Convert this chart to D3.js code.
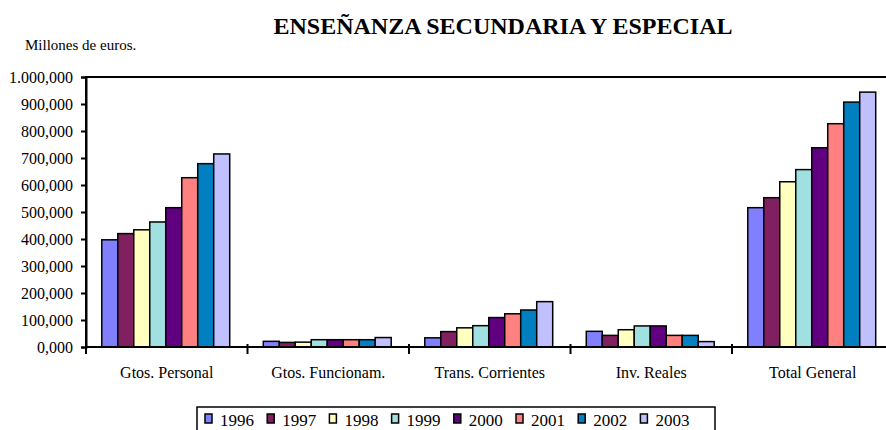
<!DOCTYPE html>
<html>
<head>
<meta charset="utf-8">
<script src="https://cdn.jsdelivr.net/npm/d3@7"></script>
<style>
  body { margin: 0; background: #fff; }
  svg { display: block; }
</style>
</head>
<body>
<div id="viz"></div>
<script>
'use strict';

const categories = ['Gtos. Personal', 'Gtos. Funcionam.', 'Trans. Corrientes', 'Inv. Reales', 'Total General'];
const years = ['1996', '1997', '1998', '1999', '2000', '2001', '2002', '2003'];
const colors = ['#8080ff', '#802060', '#ffffc0', '#a0e0e0', '#600080', '#ff8080', '#0080c0', '#c0c0ff'];

// one array per year, values in the order of categories
const v1996 = [397000, 21000, 34000, 58000, 516000];
const v1997 = [420000, 17000, 57000, 43000, 553000];
const v1998 = [434000, 18000, 71000, 64000, 612000];
const v1999 = [463000, 27000, 79000, 78000, 657000];
const v2000 = [516000, 27000, 109000, 78000, 738000];
const v2001 = [627000, 27000, 123000, 43000, 827000];
const v2002 = [679000, 27000, 137000, 43000, 907000];
const v2003 = [715000, 35000, 168000, 20000, 944000];
const series = [v1996, v1997, v1998, v1999, v2000, v2001, v2002, v2003];

const yTicks = [0, 100000, 200000, 300000, 400000, 500000, 600000, 700000, 800000, 900000, 1000000];
const yTickLabels = ['0,000', '100,000', '200,000', '300,000', '400,000', '500,000',
  '600,000', '700,000', '800,000', '900,000', '1.000,000'];

const FONT = '"Liberation Serif", "Times New Roman", serif';
const W = 886, H = 430;
const plotLeft = 86, plotTop = 77, plotBottom = 347;
const catWidth = 161.5;
const plotRight = plotLeft + catWidth * categories.length;

const svg = d3.select('#viz')
  .append('svg')
    .attr('width', W)
    .attr('height', H)
    .attr('font-family', FONT);

// title
svg.append('text')
  .attr('x', 503)
  .attr('y', 34)
  .attr('text-anchor', 'middle')
  .attr('font-size', 24)
  .attr('font-weight', 'bold')
  .text('ENSEÑANZA SECUNDARIA Y ESPECIAL');

svg.append('text')
  .attr('x', 25)
  .attr('y', 50)
  .attr('font-size', 15)
  .text('Millones de euros.');

const x = d3.scaleBand()
  .domain(categories)
  .range([plotLeft, plotRight])
  .padding(0);

const xi = d3.scaleBand()
  .domain(years)
  .range([0, catWidth])
  .paddingInner(0)
  .paddingOuter(1.05)
  .align(0.47);

const y = d3.scaleLinear()
  .domain([0, 1000000])
  .range([plotBottom, plotTop]);

// plot frame
svg.append('rect')
  .attr('x', plotLeft)
  .attr('y', plotTop)
  .attr('width', plotRight - plotLeft)
  .attr('height', plotBottom - plotTop)
  .attr('fill', 'none')
  .attr('stroke', '#000')
  .attr('stroke-width', 2);

// bars
const groups = svg.append('g')
  .selectAll('g')
  .data(years)
  .join('g')
    .attr('fill', (d, i) => colors[i]);

groups.selectAll('rect')
  .data((yr, i) => series[i].map((v, j) => ({yr, cat: categories[j], v})))
  .join('rect')
    .attr('x', d => x(d.cat) + xi(d.yr))
    .attr('y', d => y(d.v))
    .attr('width', xi.bandwidth())
    .attr('height', d => y(0) - y(d.v))
    .attr('stroke', '#000')
    .attr('stroke-width', 1.5);

// left axis
const yAxis = svg.append('g')
  .attr('transform', `translate(${plotLeft},0)`)
  .call(d3.axisLeft(y)
    .tickValues(yTicks)
    .tickFormat((d, i) => yTickLabels[i])
    .tickSize(5)
    .tickPadding(8));

yAxis.attr('font-family', FONT).attr('font-size', 16);
yAxis.select('.domain').attr('stroke-width', 2);
yAxis.selectAll('.tick line').attr('stroke-width', 2);
yAxis.selectAll('.tick text').attr('fill', '#000');

// bottom axis: category labels plus crossing ticks at boundaries
svg.append('line')
  .attr('x1', plotLeft)
  .attr('x2', plotRight)
  .attr('y1', plotBottom)
  .attr('y2', plotBottom)
  .attr('stroke', '#000')
  .attr('stroke-width', 2);

const bounds = categories.map(c => x(c)).concat([plotRight]);
svg.append('g')
  .selectAll('line')
  .data(bounds)
  .join('line')
    .attr('x1', d => d)
    .attr('x2', d => d)
    .attr('y1', plotBottom - 3)
    .attr('y2', plotBottom + 7)
    .attr('stroke', '#000')
    .attr('stroke-width', 2);

svg.append('g')
  .selectAll('text')
  .data(categories)
  .join('text')
    .attr('x', d => x(d) + x.bandwidth() / 2)
    .attr('y', 378)
    .attr('text-anchor', 'middle')
    .attr('font-size', 16)
    .text(d => d);

// legend (its lower part falls below the picture, as in the source)
const legend = svg.append('g');
legend.append('rect')
  .attr('x', 197)
  .attr('y', 407)
  .attr('width', 518)
  .attr('height', 40)
  .attr('fill', '#fff')
  .attr('stroke', '#000')
  .attr('stroke-width', 1.5);

const item = legend.selectAll('g.item')
  .data(years)
  .join('g')
    .attr('class', 'item')
    .attr('transform', (d, i) => `translate(${205 + i * 62.2},0)`);

item.append('rect')
  .attr('x', 0)
  .attr('y', 414)
  .attr('width', 7)
  .attr('height', 9)
  .attr('fill', (d, i) => colors[i])
  .attr('stroke', '#000')
  .attr('stroke-width', 1.5);

item.append('text')
  .attr('x', 15)
  .attr('y', 426)
  .attr('font-size', 17)
  .text(d => d);
</script>
</body>
</html>
